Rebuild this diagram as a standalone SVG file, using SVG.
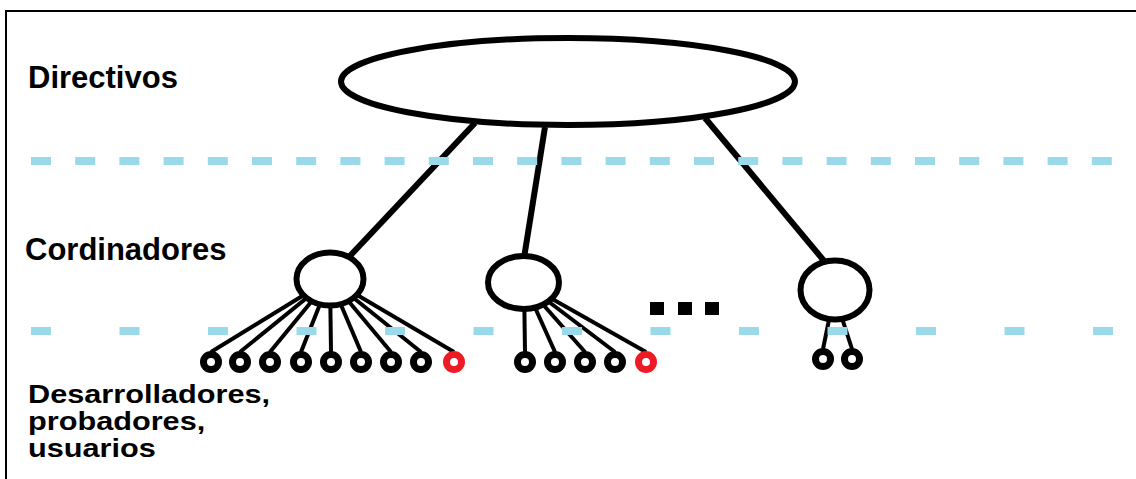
<svg xmlns="http://www.w3.org/2000/svg" width="1136" height="479" viewBox="0 0 1136 479">
  <style>
    .label { font-family: "Liberation Sans", Arial, sans-serif; font-weight: bold; font-size: 31px; fill: #000; }
    .label.wide { font-size: 26px; }
    .trunk { stroke: #000; stroke-width: 6; fill: none; }
    .twig { stroke: #000; stroke-width: 4; fill: none; }
    .boss { stroke: #000; stroke-width: 6; fill: #fff; }
    .leaf { stroke: #000; stroke-width: 7; fill: #fff; }
    .leaf.new { stroke: #ed1c24; }
    .level { stroke: #99d9ea; stroke-width: 8; fill: none; }
  </style>

  <!-- outer frame -->
  <rect x="6" y="11" width="1140" height="480" fill="#fff" stroke="#000" stroke-width="2"/>

  <!-- level labels -->
  <g id="labels">
    <text class="label" x="28" y="88">Directivos</text>
    <text class="label" x="25" y="260">Cordinadores</text>
    <!-- bottom label is set smaller and stretched wide to keep its three lines tight -->
    <g transform="translate(28 0) scale(1.18 1)">
      <text class="label wide" x="0" y="403">Desarrolladores,</text>
      <text class="label wide" x="0" y="430">probadores,</text>
      <text class="label wide" x="0" y="457">usuarios</text>
    </g>
  </g>

  <!-- connectors -->
  <g id="connectors">
    <line class="trunk" x1="475" y1="123" x2="348" y2="258"/>
    <line class="trunk" x1="545" y1="127" x2="524" y2="258"/>
    <line class="trunk" x1="705" y1="118" x2="825" y2="262"/>

    <!-- coordinator 1 to its team -->
    <line class="twig" x1="330" y1="279" x2="211" y2="352"/>
    <line class="twig" x1="330" y1="279" x2="240" y2="352"/>
    <line class="twig" x1="330" y1="279" x2="270" y2="352"/>
    <line class="twig" x1="330" y1="279" x2="301" y2="352"/>
    <line class="twig" x1="330" y1="279" x2="331" y2="352"/>
    <line class="twig" x1="330" y1="279" x2="361" y2="352"/>
    <line class="twig" x1="330" y1="279" x2="391" y2="352"/>
    <line class="twig" x1="330" y1="279" x2="421" y2="352"/>
    <line class="twig" x1="330" y1="279" x2="454" y2="352"/>

    <!-- coordinator 2 to its team -->
    <line class="twig" x1="524" y1="283" x2="525" y2="352"/>
    <line class="twig" x1="524" y1="283" x2="555" y2="352"/>
    <line class="twig" x1="524" y1="283" x2="585" y2="352"/>
    <line class="twig" x1="524" y1="283" x2="615" y2="352"/>
    <line class="twig" x1="524" y1="283" x2="646" y2="352"/>

    <!-- coordinator 3 to its team -->
    <line class="twig" x1="830" y1="315" x2="823" y2="349"/>
    <line class="twig" x1="841" y1="315" x2="852" y2="349"/>
  </g>

  <!-- management -->
  <g id="directivos">
    <ellipse class="boss" cx="568" cy="81.5" rx="227" ry="43.5"/>
  </g>

  <!-- coordinators -->
  <g id="coord-1">
    <ellipse class="boss" cx="330" cy="279" rx="33.5" ry="26.5"/>
  </g>
  <g id="coord-2">
    <ellipse class="boss" cx="523.5" cy="282.5" rx="35.5" ry="26.5"/>
  </g>
  <g id="coord-3">
    <ellipse class="boss" cx="835" cy="290" rx="34.5" ry="29.5"/>
  </g>

  <!-- more coordinators -->
  <g id="ellipsis" fill="#000">
    <rect x="650" y="302" width="14" height="13"/>
    <rect x="678" y="302" width="14" height="13"/>
    <rect x="705" y="302" width="14" height="13"/>
  </g>

  <!-- team of coordinator 1 -->
  <g id="team-1">
    <circle class="leaf" cx="211" cy="362" r="7.5"/>
    <circle class="leaf" cx="240" cy="362" r="7.5"/>
    <circle class="leaf" cx="270" cy="362" r="7.5"/>
    <circle class="leaf" cx="301" cy="362" r="7.5"/>
    <circle class="leaf" cx="331" cy="362" r="7.5"/>
    <circle class="leaf" cx="361" cy="362" r="7.5"/>
    <circle class="leaf" cx="391" cy="362" r="7.5"/>
    <circle class="leaf" cx="421" cy="362" r="7.5"/>
    <circle class="leaf new" cx="454" cy="362" r="7.5"/>
  </g>

  <!-- team of coordinator 2 -->
  <g id="team-2">
    <circle class="leaf" cx="525" cy="362" r="7.5"/>
    <circle class="leaf" cx="555" cy="362" r="7.5"/>
    <circle class="leaf" cx="585" cy="362" r="7.5"/>
    <circle class="leaf" cx="615" cy="362" r="7.5"/>
    <circle class="leaf new" cx="646" cy="362" r="7.5"/>
  </g>

  <!-- team of coordinator 3 -->
  <g id="team-3">
    <circle class="leaf" cx="823" cy="359" r="7.5"/>
    <circle class="leaf" cx="852" cy="359" r="7.5"/>
  </g>

  <!-- level boundaries -->
  <g id="levels">
    <line class="level" x1="31" y1="161" x2="1113" y2="161" stroke-dasharray="20 24.2"/>
    <line class="level" x1="31" y1="331" x2="1114" y2="331" stroke-dasharray="20 68.5"/>
  </g>
</svg>
